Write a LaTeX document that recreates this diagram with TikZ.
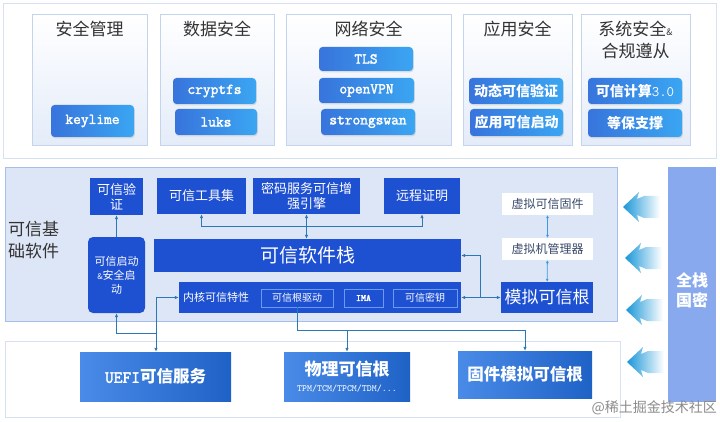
\documentclass[tikz,border=0pt]{standalone}
\usepackage{fontspec}
\setmainfont{Noto Sans CJK SC}
\newfontfamily\monob[FakeBold=2.2]{Latin Modern Mono}
\newfontfamily\monof{Latin Modern Mono}
\usetikzlibrary{arrows.meta,shadows}
\definecolor{dblue}{HTML}{1E50D2}
\definecolor{midfill}{HTML}{DDE6F6}
\definecolor{midborder}{HTML}{A8BEEA}
\definecolor{colborder}{HTML}{C4D4EC}
\definecolor{colbot}{HTML}{E4ECF9}
\definecolor{tagl}{HTML}{3874DC}
\definecolor{tagr}{HTML}{3AA6F2}
\definecolor{botl}{HTML}{4A8BE8}
\definecolor{botr}{HTML}{1F62C6}
\definecolor{qmblue}{HTML}{88A9EE}
\definecolor{lnc}{HTML}{2A78B5}
\definecolor{vlnc}{HTML}{3C9BE0}
\definecolor{chevc}{HTML}{1A96D8}
\definecolor{titc}{HTML}{333333}
\definecolor{vtext}{HTML}{3A4A6A}
\definecolor{innerb}{HTML}{6A9AF5}
\tikzset{
  panel/.style={draw=#1, line width=0.8pt, inner sep=0pt},
  colbox/.style={draw=colborder, line width=0.8pt, top color=white, bottom color=colbot, inner sep=0pt},
  title/.style={text=titc, font=\fontsize{17}{22}\selectfont, inner sep=0pt, align=center},
  tag/.style={rounded corners=3.5pt, left color=tagl, right color=tagr, text=white, inner sep=0pt,
    drop shadow={opacity=0.22, shadow xshift=0.8pt, shadow yshift=-1.3pt}},
  monotag/.style={tag, font=\monob\fontsize{15}{15}\selectfont},
  cjktag/.style={tag, font=\bfseries\fontsize{14}{14}\selectfont},
  dbox/.style={fill=dblue, text=white, inner sep=0pt, align=center, font=\fontsize{13}{15}\selectfont},
  inbox/.style={draw=innerb, line width=0.6pt, text=white, inner sep=0pt, font=\fontsize{10}{10}\selectfont},
  vbox/.style={fill=white, text=vtext, inner sep=0pt, font=\fontsize{12}{12}\selectfont},
  botbox/.style={left color=botl, right color=botr, text=white, inner sep=0pt, align=center,
    font=\bfseries\fontsize{16.5}{18}\selectfont},
  conn/.style={draw=lnc, line width=1pt, -{Latex[length=4pt,width=3.5pt]}},
  plain/.style={draw=lnc, line width=1pt},
  both/.style={draw=lnc, line width=1pt, {Latex[length=4pt,width=3.5pt]}-{Latex[length=4pt,width=3.5pt]}},
  vconn/.style={draw=vlnc, line width=0.8pt, {Latex[length=3pt,width=3pt]}-{Latex[length=3pt,width=3pt]}},
}
\newcommand{\chevron}[2]{%
  \shade[left color=chevc, middle color=chevc!70, right color=white]
    (#1,#2) -- ++(16,-15) -- ++(-2,7) -- ++(7,-3) -- ++(16,0) -- ++(0,22) -- ++(-16,0) -- ++(-7,-3) -- ++(2,7) -- cycle;}
\begin{document}
\begin{tikzpicture}[x=1pt,y=-1pt]
\useasboundingbox (0,0) rectangle (720,422);
\fill[white] (0,0) rectangle (720,422);

% ---------- top panel ----------
\node[panel=colborder!70, fill=white, minimum width=713pt, minimum height=155pt] (top) at (359.5,80.5) {};
\node[colbox, minimum width=115pt, minimum height=131pt] (cA) at (89.5,79.5) {};
\node[colbox, minimum width=114pt, minimum height=131pt] (cB) at (217,79.5) {};
\node[colbox, minimum width=165pt, minimum height=131pt] (cC) at (368.5,79.5) {};
\node[colbox, minimum width=109pt, minimum height=131pt] (cD) at (517.5,79.5) {};
\node[colbox, minimum width=109pt, minimum height=131pt] (cE) at (635.5,79.5) {};

\node[title] (tA) at (89.5,29) {安全管理};
\node[title] (tB) at (217,29) {数据安全};
\node[title] (tC) at (368.5,29) {网络安全};
\node[title] (tD) at (517.5,29) {应用安全};
\node[title] (tE) at (635.5,40) {系统安全{\fontsize{9}{9}\selectfont\&}\\合规遵从};

\node[monotag, minimum width=83pt, minimum height=32pt] (keylime) at (92.5,121) {keylime};
\node[monotag, minimum width=83pt, minimum height=26pt] (cryptfs) at (214.5,91) {cryptfs};
\node[monotag, minimum width=82pt, minimum height=26pt] (luks) at (216,122) {luks};
\node[monotag, minimum width=94pt, minimum height=24pt] (tls) at (366,59) {TLS};
\node[monotag, minimum width=95pt, minimum height=25pt] (openvpn) at (366.5,90.5) {openVPN};
\node[monotag, minimum width=94pt, minimum height=26pt] (strongswan) at (368,122) {strongswan};
\node[cjktag, minimum width=94pt, minimum height=26pt] (dtyz) at (516,91) {动态可信验证};
\node[cjktag, minimum width=93pt, minimum height=27pt] (yyqd) at (516.5,122.5) {应用可信启动};
\node[cjktag, minimum width=94pt, minimum height=26pt] (kxjs) at (635,91) {可信计算{\monof\fontsize{14.5}{14.5}\selectfont 3.0}};
\node[cjktag, minimum width=94pt, minimum height=28pt] (dbzc) at (635,123) {等保支撑};

% ---------- middle panel ----------
\node[panel=midborder, fill=midfill, minimum width=612pt, minimum height=154pt] (mid) at (311,244) {};
\node[anchor=west, align=left, text=titc, font=\fontsize{17}{22}\selectfont, inner sep=0pt] (lbl) at (8,240) {可信基\\础软件};

\node[dbox, minimum width=53pt, minimum height=37pt] (yz) at (116.5,196.5) {可信验\\证};
\node[dbox, rounded corners=5pt, minimum width=57pt, minimum height=76pt, font=\fontsize{11}{14}\selectfont] (qd) at (116.5,275) {可信启动\\{\fontsize{8}{8}\selectfont\&}安全启\\动};
\node[dbox, minimum width=89pt, minimum height=36pt] (gj) at (201.5,196) {可信工具集};
\node[dbox, minimum width=107pt, minimum height=36pt] (mm) at (306.5,196) {密码服务可信增\\强引擎};
\node[dbox, minimum width=76pt, minimum height=36pt] (yc) at (422,196) {远程证明};
\node[dbox, minimum width=307pt, minimum height=33pt, font=\fontsize{19}{19}\selectfont] (zhan) at (307.5,255.5) {可信软件栈};
\node[dbox, minimum width=282pt, minimum height=31pt] (nh) at (320,297.5) {};
\node[anchor=west, text=white, inner sep=0pt, font=\fontsize{11}{11}\selectfont] (nhl) at (183,297.5) {内核可信特性};
\node[inbox, minimum width=72pt, minimum height=18pt] (qgqd) at (297,298) {可信根驱动};
\node[inbox, minimum width=39pt, minimum height=18pt, font=\monob\fontsize{9.5}{9.5}\selectfont] (ima) at (363.5,298) {IMA};
\node[inbox, minimum width=64pt, minimum height=18pt] (my) at (425,298) {可信密钥};

\node[vbox, minimum width=91pt, minimum height=22pt] (gujian) at (547.5,204) {虚拟可信固件};
\node[vbox, minimum width=91pt, minimum height=22pt] (vmm) at (547.5,249) {虚拟机管理器};
\node[dbox, minimum width=92pt, minimum height=31pt, font=\fontsize{17}{17}\selectfont] (mn) at (547,297.5) {模拟可信根};

% ---------- right panel ----------
\node[fill=qmblue, minimum width=48pt, minimum height=235pt, inner sep=0pt] (qm) at (692,284.5) {};
\node[text=white, align=center, inner sep=0pt, font=\bfseries\fontsize{16}{20}\selectfont] (qmt) at (692,290) {全栈\\国密};
\chevron{623}{207}
\chevron{625}{258}
\chevron{626}{310}
\chevron{627}{362}

% ---------- bottom panel ----------
\node[panel=colborder!70, fill=white, minimum width=615pt, minimum height=76pt] (bot) at (312.5,379) {};
\node[botbox, minimum width=151pt, minimum height=49pt] (uefi) at (155.5,376.5) {{\monob\fontsize{17}{17}\selectfont UEFI}可信服务};
\node[botbox, minimum width=126pt, minimum height=49pt, font=\bfseries\fontsize{17}{19}\selectfont] (wl) at (347,376.5) {物理可信根\\[-3pt]{\monof\fontsize{9.5}{9}\selectfont TPM/TCM/TPCM/TDM/...}};
\node[botbox, minimum width=134pt, minimum height=47pt] (gjmn) at (525,374.5) {固件模拟可信根};

\node[anchor=east, text=black!45, inner sep=0pt, font=\fontsize{14}{14}\selectfont] (wm) at (717,408) {@稀土掘金技术社区};

% ---------- connectors ----------
\draw[conn] (qd) -- (yz);
\coordinate (j1) at (156,333);
\draw[conn] (j1) -| (qd.south);
\draw[conn] (j1) |- (nh.west);
\draw[conn] (j1) -- (j1 |- uefi.north);

\coordinate (j2) at (347,330);
\draw[plain] (qgqd.south) |- (j2);
\draw[conn] (j2) -- (j2 |- wl.north);
\draw[conn] (j2) -| (gjmn.north);

\coordinate (j3) at (480,297.5);
\draw[conn] (j3) |- (zhan.east);
\draw[conn] (j3) -- (nh.east);
\draw[conn] (j3) -- (mn.west);

\coordinate (j4) at (306.5,227);
\draw[both] (mm.south) -- (mm.south |- zhan.north);
\draw[conn] (j4) -| (gj.south);
\draw[conn] (j4) -| (yc.south);

\draw[vconn] (gujian) -- (vmm);
\draw[vconn] (vmm) -- (mn);
\end{tikzpicture}
\end{document}
